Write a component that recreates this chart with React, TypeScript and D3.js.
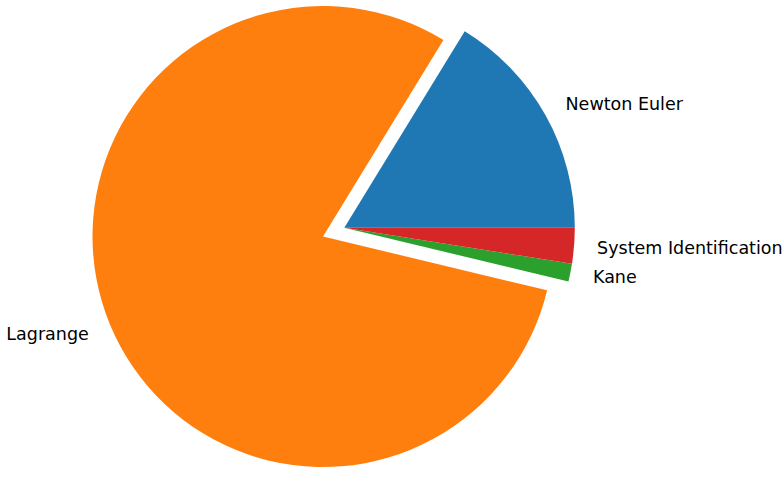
import React, { useEffect, useRef } from 'react';
import * as d3 from 'd3';

// pie data (counts per method)
const labels = ['Newton Euler', 'Lagrange', 'Kane', 'System Identification'];
const counts = [13, 64, 1, 2];
const explode = [0, 0.1, 0, 0];
const colors = ['#1f77b4', '#ff7f0e', '#2ca02c', '#d62728'];

const App = () => {
  const svgRef = useRef<SVGSVGElement>(null);

  useEffect(() => {
    const width = 784;
    const height = 483;
    const svg = d3.select(svgRef.current);
    svg.selectAll('*').remove();
    svg.attr('width', width).attr('height', height);

    const cx = 344.3;
    const cy = 227.7;
    const r = 230.5;

    // matplotlib style: start at 3 o'clock, go counterclockwise
    const pie = d3.pie<number>()
      .sort(null)
      .value(d => d)
      .startAngle(Math.PI / 2)
      .endAngle(Math.PI / 2 - 2 * Math.PI);

    const arcs = pie(counts);
    const arc = d3.arc<d3.PieArcDatum<number>>().innerRadius(0).outerRadius(r);

    const g = svg.append('g').attr('transform', `translate(${cx},${cy})`);

    arcs.forEach((a, i) => {
      const mid = (a.startAngle + a.endAngle) / 2;
      const ux = Math.sin(mid);
      const uy = -Math.cos(mid);
      const ox = explode[i] * r * ux;
      const oy = explode[i] * r * uy;

      g.append('path')
        .attr('d', arc(a))
        .attr('transform', `translate(${ox},${oy})`)
        .attr('fill', colors[i]);

      const lx = ox + 1.1 * r * ux;
      const ly = oy + 1.1 * r * uy;
      g.append('text')
        .attr('x', lx)
        .attr('y', ly)
        .attr('dy', '0.35em')
        .attr('text-anchor', lx > ox ? 'start' : 'end')
        .attr('font-family', 'DejaVu Sans')
        .attr('font-size', '17.5px')
        .attr('fill', '#000')
        .text(labels[i]);
    });
  }, []);

  return (
    <div style={{ position: 'absolute', left: 0, top: 0 }}>
      <svg ref={svgRef} style={{ display: 'block', background: '#fff' }}></svg>
    </div>
  );
};

export default App;
